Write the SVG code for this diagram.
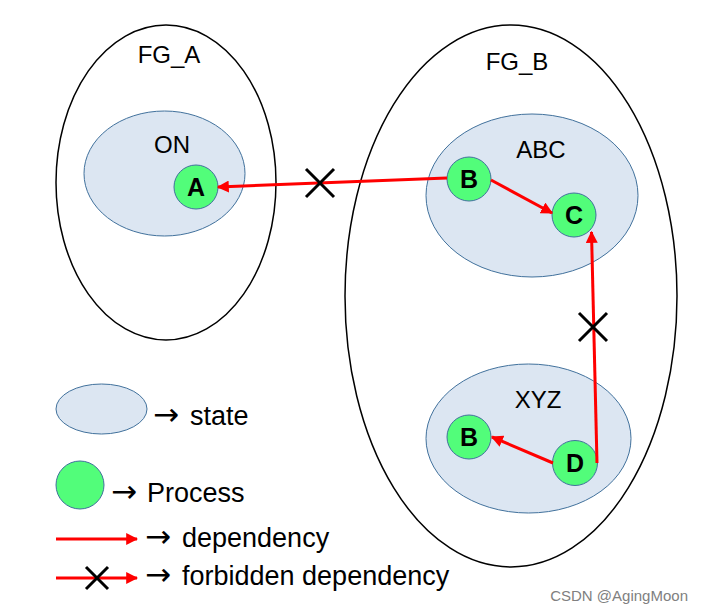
<svg xmlns="http://www.w3.org/2000/svg" width="701" height="615" viewBox="0 0 701 615">
<defs>
<style>
.fg{fill:none;stroke:#000;stroke-width:1.5}
.st{fill:#dce6f2;stroke:#41719c;stroke-width:1}
.pr{fill:#52fd7a;stroke:#41719c;stroke-width:1}
.lb{font-family:"Liberation Sans",Arial,sans-serif;font-size:24px;fill:#000;text-anchor:middle}
.pl{font-family:"Liberation Sans",Arial,sans-serif;font-size:25px;font-weight:bold;fill:#000;text-anchor:middle}
.lg{font-family:"Liberation Sans",Arial,sans-serif;font-size:27px;fill:#000}
.ar{font-family:"DejaVu Sans",sans-serif;font-size:31px;fill:#000}
.dep{stroke:#ff0000;stroke-width:3;fill:none;marker-end:url(#ah)}
.x{stroke:#000;stroke-width:3;fill:none}
</style>
<marker id="ah" viewBox="0 0 10 10" refX="9" refY="5" markerWidth="4" markerHeight="4" orient="auto" markerUnits="strokeWidth">
<path d="M0,0 L10,5 L0,10 Z" fill="#ff0000"/>
</marker>
</defs>
<rect width="701" height="615" fill="#fff"/>

<g id="FG_A">
<ellipse class="fg" cx="166" cy="182.5" rx="110" ry="157.5"/>
<text class="lb" x="169" y="63">FG_A</text>
</g>
<g id="FG_B">
<ellipse class="fg" cx="511" cy="296" rx="166" ry="271"/>
<text class="lb" x="517" y="70">FG_B</text>
</g>

<g id="ON">
<ellipse class="st" cx="164.5" cy="173.5" rx="80.5" ry="62.5"/>
<text class="lb" x="172" y="153">ON</text>
</g>
<g id="ABC">
<ellipse class="st" cx="532" cy="195.5" rx="106" ry="81.5"/>
<text class="lb" x="541" y="158">ABC</text>
</g>
<g id="XYZ">
<ellipse class="st" cx="528.5" cy="438.5" rx="102.5" ry="74.5"/>
<text class="lb" x="538" y="408">XYZ</text>
</g>

<g id="ON_A">
<circle class="pr" cx="196" cy="187" r="22"/>
<text class="pl" x="196" y="196">A</text>
</g>
<g id="ABC_B">
<circle class="pr" cx="469" cy="179" r="22"/>
<text class="pl" x="469" y="188">B</text>
</g>
<g id="ABC_C">
<circle class="pr" cx="574" cy="215" r="22"/>
<text class="pl" x="574" y="224">C</text>
</g>
<g id="XYZ_B">
<circle class="pr" cx="469" cy="437" r="22"/>
<text class="pl" x="469" y="446">B</text>
</g>
<g id="XYZ_D">
<circle class="pr" cx="575" cy="463" r="22.5"/>
<text class="pl" x="575" y="472">D</text>
</g>

<g id="connectors">
<line class="dep" x1="447" y1="178" x2="218" y2="187"/>
<path class="x" d="M306,169 L334,197 M334,169 L306,197"/>
<line class="dep" x1="491" y1="180" x2="552" y2="213"/>
<line class="dep" x1="553" y1="463" x2="492" y2="437"/>
<line class="dep" x1="597" y1="463" x2="591.5" y2="232"/>
<path class="x" d="M579,313 L607,341 M607,313 L579,341"/>
</g>

<g id="legend">
<ellipse class="st" cx="101.5" cy="409" rx="45.5" ry="25"/>
<text class="ar" x="153" y="425">→</text>
<text class="lg" x="190" y="425">state</text>
<circle class="pr" cx="80" cy="485" r="24"/>
<text class="ar" x="111" y="502">→</text>
<text class="lg" x="147" y="502">Process</text>
<line class="dep" x1="56" y1="539" x2="137" y2="539"/>
<text class="ar" x="145" y="547">→</text>
<text class="lg" x="182" y="547">dependency</text>
<line class="dep" x1="56" y1="578" x2="137" y2="578"/>
<path class="x" d="M86,567 L108,589 M108,567 L86,589"/>
<text class="ar" x="145" y="585">→</text>
<text class="lg" x="182" y="585">forbidden dependency</text>
</g>

<text x="688" y="601" font-family="'Liberation Sans',Arial,sans-serif" font-size="15" fill="#808080" text-anchor="end">CSDN @AgingMoon</text>
</svg>
